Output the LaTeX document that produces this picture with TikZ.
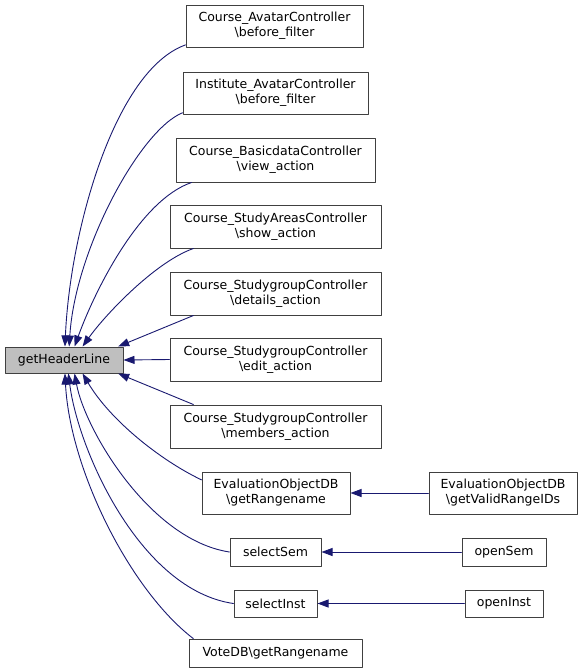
\documentclass[tikz,border=0pt]{standalone}
\usepackage{fontspec}
\setmainfont{DejaVu Sans}
\usepackage{xcolor}
\usetikzlibrary{arrows.meta}
\definecolor{edgeblue}{HTML}{191970}
\tikzset{
  fn/.style={draw=black!75, fill=white, line width=1pt, inner sep=0pt,
    align=center, font=\fontsize{12.5}{15}\selectfont},
  focus/.style={fn, fill=black!25},
  call/.style={<-, draw=edgeblue, line width=0.9pt}
}

\begin{document}
\begin{tikzpicture}[x=1pt, y=-1pt, >={Triangle[length=11pt,width=8pt]}, line cap=round, line join=round]
\useasboundingbox (0,0) rectangle (584,672);

% Funzione chiamata
\node[focus, minimum width=118pt, minimum height=26pt] (hdr) at (64,360) {getHeaderLine};

% Chiamanti
\node[fn, minimum width=177pt, minimum height=42pt] (cav) at (274.5,26) {Course\_AvatarController\\\textbackslash before\_filter};
\node[fn, minimum width=185pt, minimum height=42pt] (iav) at (275.5,93) {Institute\_AvatarController\\\textbackslash before\_filter};
\node[fn, minimum width=199pt, minimum height=44pt] (bdc) at (275.5,160) {Course\_BasicdataController\\\textbackslash view\_action};
\node[fn, minimum width=211pt, minimum height=43pt] (sac) at (275.5,226.5) {Course\_StudyAreasController\\\textbackslash show\_action};
\node[fn, minimum width=211pt, minimum height=43pt] (dac) at (275.5,293.5) {Course\_StudygroupController\\\textbackslash details\_action};
\node[fn, minimum width=211pt, minimum height=43pt] (eac) at (275.5,359.5) {Course\_StudygroupController\\\textbackslash edit\_action};
\node[fn, minimum width=211pt, minimum height=43pt] (mac) at (275.5,426.5) {Course\_StudygroupController\\\textbackslash members\_action};
\node[fn, minimum width=148pt, minimum height=42pt] (gre) at (276,493) {EvaluationObjectDB\\\textbackslash getRangename};
\node[fn, minimum width=91pt, minimum height=28pt] (sem) at (275.5,552) {selectSem};
\node[fn, minimum width=83pt, minimum height=27pt] (ins) at (275.5,603.5) {selectInst};
\node[fn, minimum width=173pt, minimum height=28pt] (vdb) at (275.5,653) {VoteDB\textbackslash getRangename};

% Secondo livello
\node[fn, minimum width=148pt, minimum height=42pt] (gvr) at (503,493) {EvaluationObjectDB\\\textbackslash getValidRangeIDs};
\node[fn, minimum width=84pt, minimum height=28pt] (osm) at (504,552) {openSem};
\node[fn, minimum width=78pt, minimum height=27pt] (oin) at (504,603.5) {openInst};

% Archi verso getHeaderLine
\draw[call] (hdr.86) .. controls (70,230) and (115,70) .. (cav.192);
\draw[call] (hdr.69) .. controls (75,250) and (140,130) .. (iav.192);
\draw[call] (hdr.52) .. controls (95,290) and (140,200) .. (bdc.195);
\draw[call] (hdr.36) .. controls (105,315) and (155,262) .. (sac.195);
\draw[call] (hdr.14) -- (dac.195);
\draw[call] (hdr.east) -- (eac.west);
\draw[call] (hdr.-14) -- (mac.165);
\draw[call] (hdr.-36) .. controls (110,420) and (160,460) .. (gre.170);
\draw[call] (hdr.-52) .. controls (85,430) and (150,540) .. (sem.west);
\draw[call] (hdr.-72) .. controls (78,450) and (140,590) .. (ins.west);
\draw[call] (hdr.-86) .. controls (70,470) and (130,590) .. (vdb.170);

% Archi del secondo livello
\draw[call] (gre.east) -- (gvr.west);
\draw[call] (sem.east) -- (osm.west);
\draw[call] (ins.east) -- (oin.west);

\end{tikzpicture}
\end{document}
